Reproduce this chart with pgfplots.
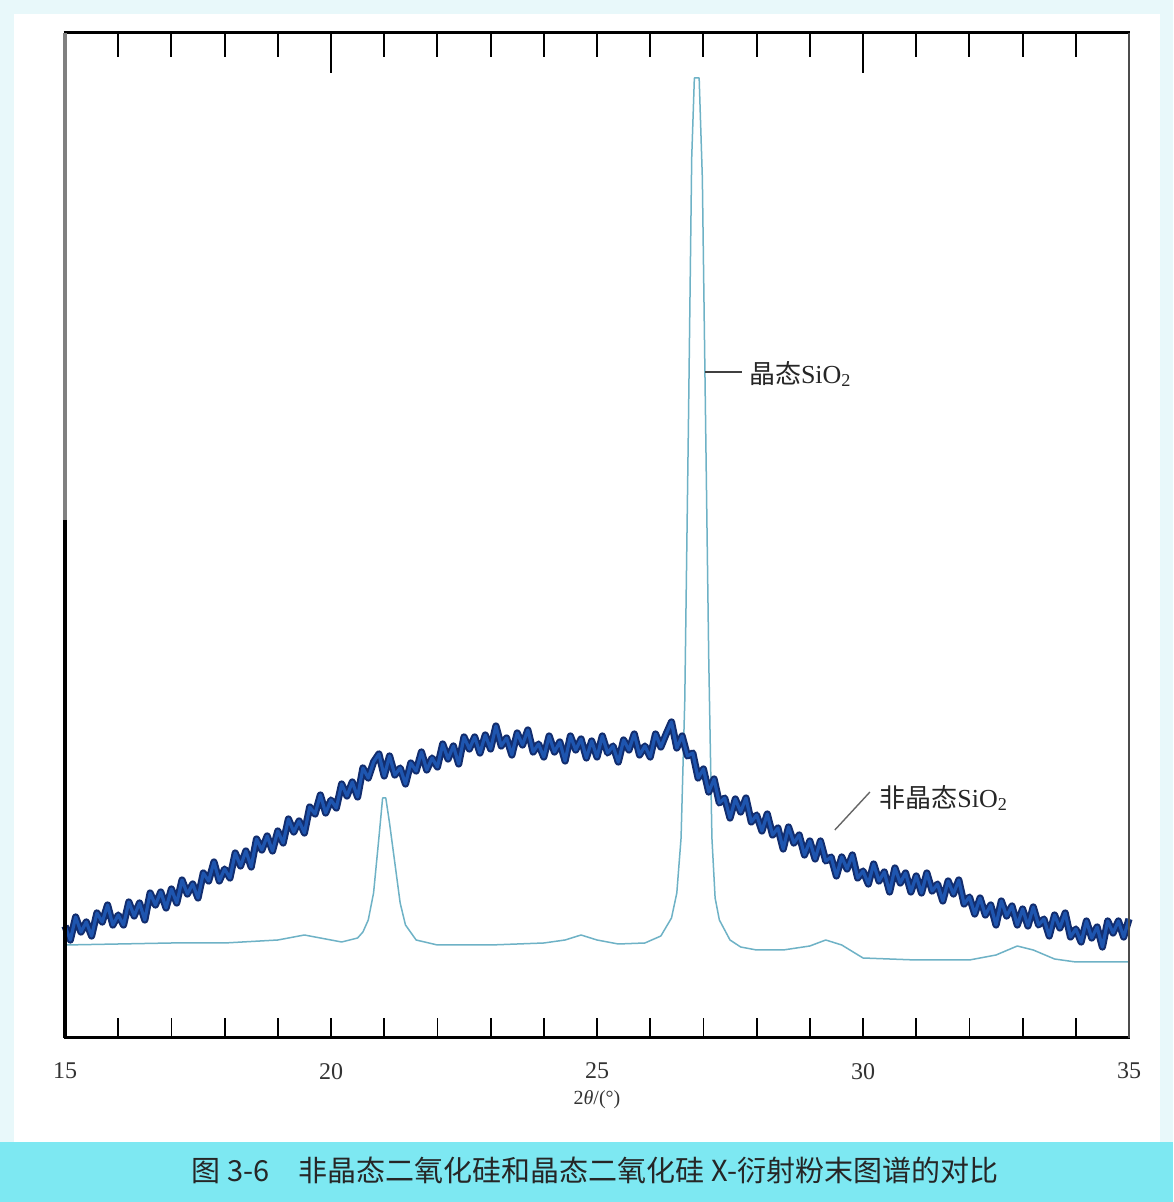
\documentclass[border=0pt]{standalone}
\usepackage{fontspec}
\setmainfont{Liberation Serif}
\newfontfamily\cjk{Noto Sans CJK SC}
\usepackage{pgfplots}
\usepackage{pgfplotstable}
\pgfplotsset{compat=1.18}
\definecolor{amorph}{RGB}{30,85,175}
\definecolor{amorphdark}{RGB}{18,45,110}
\definecolor{cryst}{RGB}{110,178,198}
\definecolor{capband}{RGB}{125,232,242}
\definecolor{framec}{RGB}{232,248,250}

\pgfplotstableread{
x y
15.0 93
16.0 94
17.0 95
18.0 95
19.0 98
19.3 101
19.5 103
19.8 100
20.2 96
20.5 100
20.6 106
20.7 118
20.8 145
20.9 200
20.97 240
21.03 240
21.1 215
21.2 175
21.3 135
21.4 113
21.6 98
22.0 93
23.0 93
24.0 95
24.4 98
24.7 103
25.0 98
25.4 94
25.9 95
26.2 102
26.4 120
26.5 145
26.58 200
26.65 338
26.72 620
26.78 880
26.83 960
26.92 960
26.98 860
27.04 620
27.1 380
27.16 200
27.22 140
27.3 118
27.5 98
27.7 91
28.0 88
28.5 88
29.0 92
29.3 98
29.6 93
30.0 80
31.0 78
32.0 78
32.5 83
32.9 92
33.2 88
33.6 79
34.0 76
35.0 76
}\cryst

\pgfplotstableread{
x y
15.0 112
15.1 98
15.2 121
15.3 106
15.4 116
15.5 102
15.6 125
15.7 116
15.8 133
15.9 113
16.0 123
16.1 113
16.2 136
16.3 122
16.4 135
16.5 118
16.6 145
16.7 133
16.8 146
16.9 130
17.0 149
17.1 135
17.2 158
17.3 144
17.4 154
17.5 140
17.6 165
17.7 157
17.8 176
17.9 157
18.0 169
18.1 160
18.2 185
18.3 172
18.4 187
18.5 171
18.6 199
18.7 188
18.8 202
18.9 187
19.0 207
19.1 195
19.2 219
19.3 206
19.4 217
19.5 205
19.6 231
19.7 224
19.8 243
19.9 225
20.0 238
20.1 230
20.2 254
20.3 242
20.4 256
20.5 241
20.6 270
20.7 260
20.8 276
20.9 284
21.0 262
21.1 282
21.2 263
21.3 270
21.4 254
21.5 275
21.6 267
21.7 286
21.8 268
21.9 280
22.0 271
22.1 294
22.2 279
22.3 292
22.4 274
22.5 301
22.6 289
22.7 301
22.8 285
22.9 303
23.0 289
23.1 312
23.2 292
23.3 300
23.4 283
23.5 305
23.6 293
23.7 308
23.8 286
23.9 294
24.0 281
24.1 302
24.2 286
24.3 296
24.4 277
24.5 302
24.6 288
24.7 299
24.8 280
24.9 297
25.0 281
25.1 302
25.2 285
25.3 292
25.4 276
25.5 298
25.6 288
25.7 304
25.8 283
25.9 292
26.0 281
26.1 304
26.2 291
26.3 304
26.4 316
26.5 290
26.6 302
26.7 282
26.8 285
26.9 260
27.0 269
27.1 246
27.2 259
27.3 235
27.4 240
27.5 220
27.6 239
27.7 226
27.8 240
27.9 216
28.0 223
28.1 207
28.2 224
28.3 203
28.4 210
28.5 189
28.6 211
28.7 195
28.8 203
28.9 183
29.0 197
29.1 179
29.2 197
29.3 177
29.4 181
29.5 162
29.6 181
29.7 169
29.8 183
29.9 160
30.0 167
30.1 154
30.2 174
30.3 157
30.4 166
30.5 146
30.6 170
30.7 155
30.8 165
30.9 146
31.0 162
31.1 145
31.2 165
31.3 147
31.4 154
31.5 137
31.6 157
31.7 144
31.8 158
31.9 134
32.0 141
32.1 124
32.2 140
32.3 123
32.4 133
32.5 113
32.6 137
32.7 122
32.8 132
32.9 113
33.0 129
33.1 112
33.2 131
33.3 113
33.4 119
33.5 102
33.6 123
33.7 110
33.8 125
33.9 101
34.0 109
34.1 96
34.2 117
34.3 100
34.4 111
34.5 91
34.6 117
34.7 105
34.8 117
34.9 101
35.0 119
}\amorph

\begin{document}
\begin{tikzpicture}[x=1pt,y=1pt]
\fill[framec] (0,0) rectangle (586.5,601);
\fill[white] (7,30) rectangle (580,594);
\fill[capband] (0,0) rectangle (586.5,30);
\begin{axis}[
  at={(32.5pt,82pt)}, anchor=south west,
  scale only axis, width=532pt, height=502.5pt,
  xmin=15, xmax=35, ymin=0, ymax=1005,
  axis line style={draw=none},
  ytick=\empty,
  xtick={15,20,25,30,35},
  minor x tick num=4,
  xtick pos=bottom,
  tick align=inside,
  major tick length=10pt, minor tick length=10pt,
  tick style={line width=0.9pt, black},
  xticklabel style={font=\fontsize{12}{14}\selectfont, text=black!80, yshift=-9pt},
  /pgf/number format/assume math mode=true,
  clip=false,
]
\addplot[cryst, line width=0.75pt, line join=round] table {\cryst};
\addplot[amorphdark, line width=3.6pt, line join=round] table {\amorph};
\addplot[amorph, line width=1.6pt, line join=round] table {\amorph};
\draw[black!75, line width=0.9pt] (axis cs:27.03,666) -- (axis cs:27.73,666);
\node[anchor=west, inner sep=0pt, font=\fontsize{13}{15}\selectfont, text=black!85] at (axis cs:27.85,664) {{\cjk 晶态}SiO\textsubscript{2}};
\draw[black!60, line width=0.7pt] (axis cs:29.47,208) -- (axis cs:30.13,246);
\node[anchor=west, inner sep=0pt, font=\fontsize{13}{15}\selectfont, text=black!85] at (axis cs:30.3,240) {{\cjk 非晶态}SiO\textsubscript{2}};
\end{axis}
\foreach \i in {1,...,19} {
  \draw[line width=1pt] (32.5+\i*26.6, 584.5) -- ++(0,-12);
}
\draw[line width=0.8pt] (32.5+5*26.6, 584.5) -- ++(0,-20);
\draw[line width=0.8pt] (32.5+15*26.6, 584.5) -- ++(0,-20);
\draw[black, line width=1.5pt] (31.75,584.5) -- (565,584.5);
\draw[black, line width=1.5pt] (31.75,82) -- (565,82);
\draw[black, line width=1.6pt] (32.5,82) -- (32.5,341);
\draw[black!50, line width=1.6pt] (32.5,341) -- (32.5,584.5);
\draw[black!70, line width=0.9pt] (564.5,82) -- (564.5,584.5);
\node[font=\fontsize{10}{12}\selectfont, text=black!80] at (298.5,51) {2\textit{θ}/(°)};
\node[font=\fontsize{14.5}{16}\selectfont\cjk, text=black!85] at (297.5,16) {图 3-6\quad 非晶态二氧化硅和晶态二氧化硅 X-衍射粉末图谱的对比};
\end{tikzpicture}
\end{document}
